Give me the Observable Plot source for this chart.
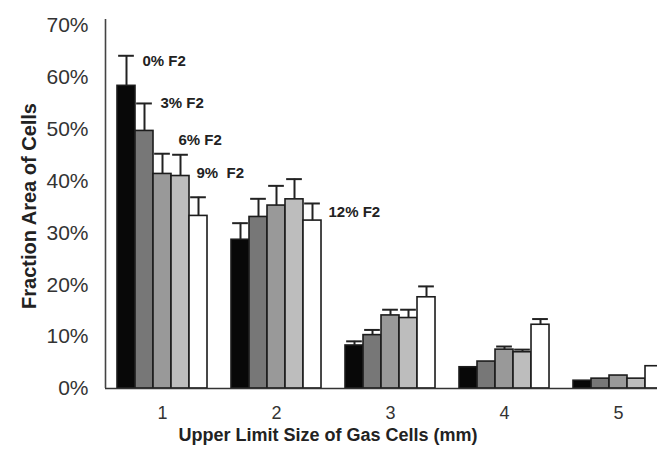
<!DOCTYPE html>
<html>
<head>
<meta charset="utf-8">
<script src="https://cdn.jsdelivr.net/npm/d3@7"></script>
<script src="https://cdn.jsdelivr.net/npm/@observablehq/plot@0.6"></script>
<style>
  html, body { margin: 0; padding: 0; background: #fff; }
  #chart svg { overflow: hidden; display: block; }
  #chart svg text { white-space: pre; }
</style>
</head>
<body>
<div id="chart"></div>
<script>
// Categories: upper limit size of gas cells (mm)
const groups = [1, 2, 3, 4, 5];
// Series: F2 fraction
const series = ["0% F2", "3% F2", "6% F2", "9%  F2", "12% F2"];
const seriesColors = ["#080808", "#777777", "#999999", "#bdbdbd", "#ffffff"];

// Fraction area of cells (%) per series, for groups 1..5
const vals0 = [58.4, 28.7, 8.3, 4.1, 1.5];
const vals3 = [49.7, 33.1, 10.3, 5.2, 1.9];
const vals6 = [41.4, 35.3, 14.1, 7.5, 2.5];
const vals9 = [41.0, 36.5, 13.6, 7.0, 1.9];
const vals12 = [33.3, 32.4, 17.6, 12.3, 4.3];

// Upper error (%) per series
const err0 = [5.8, 3.2, 0.8, 0, 0];
const err3 = [5.3, 3.5, 1.0, 0, 0];
const err6 = [3.9, 3.8, 1.1, 0.6, 0];
const err9 = [4.1, 3.9, 1.6, 0.5, 0];
const err12 = [3.6, 3.3, 2.1, 1.1, 0];

// Y tick values (%)
const yTicks = [0, 10, 20, 30, 40, 50, 60, 70];

// Series annotations: which group they sit by, and their height (%)
const labelGroup = [1, 1, 1, 1, 2];
const labelY = [63.2, 55.1, 48.0, 41.6, 34.1];

const allVals = [vals0, vals3, vals6, vals9, vals12];
const allErr = [err0, err3, err6, err9, err12];

const BW = 18 / 114; // bar width in group units
const xDomain = [0.5, 5.342];

const data = [];
series.forEach((s, i) => {
  groups.forEach((g, j) => {
    data.push({g, i, s, v: allVals[i][j], e: allErr[i][j]});
  });
});
const errData = data.filter(d => d.e > 0);
const labels = series.map((s, i) => ({s, i, g: labelGroup[i], y: labelY[i]}));

const x1 = d => d.g + (d.i - 2.5) * BW;
const x2 = d => d.g + (d.i - 1.5) * BW;
const xc = d => d.g + (d.i - 2) * BW;

const font = "'Liberation Sans', Arial, Helvetica, sans-serif";

const chart = Plot.plot({
  width: 657,
  height: 451,
  marginLeft: 105,
  marginRight: 0,
  marginTop: 19,
  marginBottom: 63,
  style: {fontFamily: font, background: "#fff", color: "#222"},
  x: {type: "linear", domain: xDomain, axis: null},
  y: {domain: [0, 71.2], axis: null},
  color: {domain: series, range: seriesColors},
  marks: [
    Plot.axisY({ticks: yTicks, tickSize: 0, tickPadding: 17, fontSize: 21, tickFormat: d => d + "%", label: null, fill: "#333"}),
    Plot.axisX({ticks: groups, tickSize: 0, tickPadding: 18, fontSize: 18, tickFormat: d => String(d), label: null, fill: "#333"}),
    Plot.rectY(data, {x1, x2, y1: 0, y2: "v", fill: "s", stroke: "#1c1c1c", strokeWidth: 1.6}),
    Plot.ruleX(errData, {x: xc, y1: d => d.v, y2: d => d.v + d.e, stroke: "#222", strokeWidth: 2}),
    Plot.ruleY(errData, {y: d => d.v + d.e, x1: d => x1(d) + 0.01, x2: d => x2(d) - 0.01, stroke: "#222", strokeWidth: 2}),
    Plot.ruleY([0], {stroke: "#333", strokeWidth: 1.6}),
    Plot.ruleX([xDomain[0]], {stroke: "#444", strokeWidth: 1.6}),
    Plot.text(labels, {x: x2, y: "y", text: "s", textAnchor: "start", dx: 7, fontSize: 15, fontWeight: "bold", fill: "#222"}),
    Plot.text(["Fraction Area of Cells"], {frameAnchor: "left", textAnchor: "middle", rotate: -90, dx: -76, dy: 2, fontSize: 20, fontWeight: "bold", fill: "#222"}),
    Plot.text(["Upper Limit Size of Gas Cells (mm)"], {frameAnchor: "bottom-left", textAnchor: "start", dx: 73, dy: 52, fontSize: 18, fontWeight: "bold", fill: "#222"})
  ]
});
document.getElementById("chart").appendChild(chart);
</script>
</body>
</html>
